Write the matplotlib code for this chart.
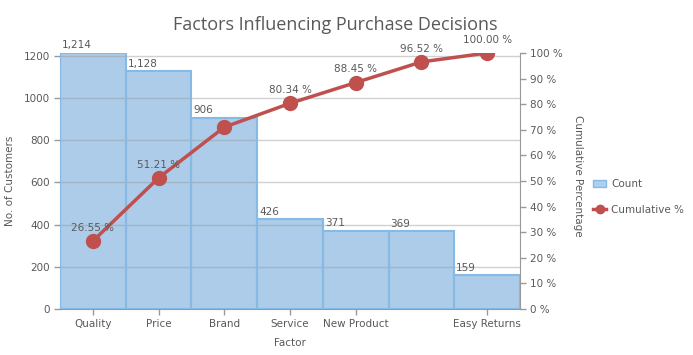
import matplotlib
matplotlib.use("Agg")
import matplotlib.pyplot as plt
from matplotlib.patches import Patch
from matplotlib.lines import Line2D

categories = ["Quality", "Price", "Brand", "Service", "New Product", "", "Easy Returns"]
counts = [1214, 1128, 906, 426, 371, 369, 159]
cumulative_pct = [26.55, 51.21, 71.03, 80.34, 88.45, 96.52, 100.00]
show_cum_label = [True, True, False, True, True, True, True]
left_ticks = [0, 200, 400, 600, 800, 1000, 1200]
right_ticks = [0, 10, 20, 30, 40, 50, 60, 70, 80, 90, 100]

TXT = "#595959"
W, H = 693, 355
fig = plt.figure(figsize=(W / 100, H / 100), dpi=100)
ax = fig.add_axes([60 / W, 1 - 309 / H, 460 / W, 256 / H])
ax2 = ax.twinx()

x = list(range(len(categories)))
ax.bar(x, counts, width=1.0, color="#5b9bd5", alpha=0.5, edgecolor="none", zorder=2)
ax.bar(x, counts, width=1.0, fill=False, edgecolor="#86b9e3", linewidth=1.5, zorder=3)
ax.set_xlim(-0.5, len(categories) - 0.5)
ax.set_ylim(0, 1214)
ax.set_yticks(left_ticks)
ax.yaxis.grid(True, color="#9a9a9a", alpha=0.45, linewidth=1, zorder=4)
ax.set_axisbelow(False)

for i, v in enumerate(counts):
    ax.text(i - 0.47, v + 12, f"{v:,}", ha="left", va="bottom", fontsize=7.5, color=TXT, zorder=6)

ax2.plot(x, cumulative_pct, color="#c0504d", linewidth=2.5, marker="o", markersize=10, zorder=5)
ax2.set_ylim(0, 100)
ax2.set_yticks(right_ticks)
ax2.set_yticklabels([f"{t} %" for t in right_ticks])
for i, v in enumerate(cumulative_pct):
    if show_cum_label[i]:
        ax2.text(i, v + 3.2, f"{v:.2f} %", ha="center", va="bottom", fontsize=7.5, color=TXT, zorder=6)

ax.set_xticks([i for i, c in enumerate(categories) if c])
ax.set_xticklabels([c for c in categories if c])

for a in (ax, ax2):
    for s in a.spines.values():
        s.set_visible(False)
    a.tick_params(colors="#999999", labelcolor=TXT, labelsize=7.5, length=4, width=1)
ax.spines["left"].set_visible(True)
ax.spines["left"].set_color("#999999")
ax.spines["bottom"].set_visible(True)
ax.spines["bottom"].set_color("#999999")
ax2.spines["right"].set_visible(True)
ax2.spines["right"].set_color("#999999")
ax2.patch.set_visible(False)

ax.set_ylabel("No. of Customers", fontsize=7.5, color=TXT, labelpad=6)
ax.set_xlabel("Factor", fontsize=7.5, color=TXT, labelpad=6)
ax2.set_ylabel("Cumulative Percentage", fontsize=7.5, color=TXT, rotation=-90, va="center", ha="center")
ax2.yaxis.set_label_coords((578 - 60) / 460, 0.52)

fig.text(335 / W, 1 - 25 / H, "Factors Influencing Purchase Decisions", ha="center", va="center",
         fontsize=13, color=TXT, family="Open Sans")

handles = [Patch(facecolor="#acd0ee", edgecolor="#86b9e3"),
           Line2D([0], [0], color="#c0504d", linewidth=2.5, marker="o", markersize=6)]
fig.legend(handles, ["Count", "Cumulative %"], loc="center left", bbox_to_anchor=(584 / W, 1 - 197 / H),
           frameon=False, fontsize=7.5, labelcolor=TXT, handlelength=1.2, handletextpad=0.5, labelspacing=1.5)

fig.savefig("out.png", dpi=100, facecolor="white")
